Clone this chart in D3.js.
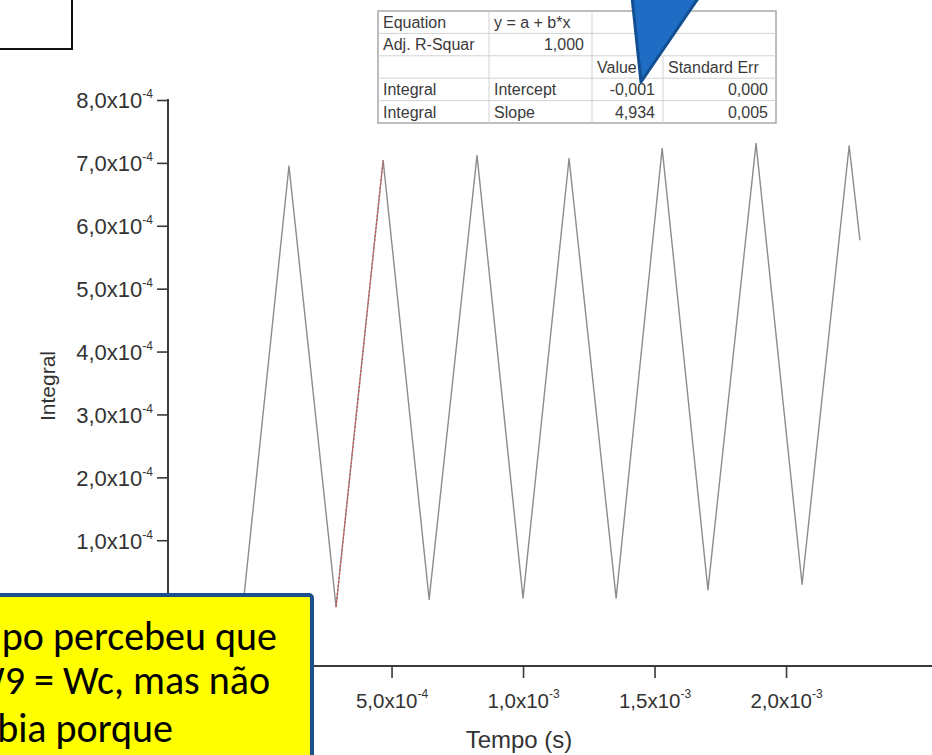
<!DOCTYPE html>
<html>
<head>
<meta charset="utf-8">
<script src="https://cdn.jsdelivr.net/npm/d3@7"></script>
<style>
  html, body { margin: 0; padding: 0; background: #fff; }
  svg { display: block; }
</style>
</head>
<body>
<svg id="chart" width="932" height="755"></svg>
<script>
// Integral signal over time (time in ms, integral in units of 1e-4)
const timeMs   = [-0.065, 0.110, 0.289, 0.468, 0.643, 0.825, 1.000, 1.175, 1.354, 1.529, 1.703, 1.886, 2.061, 2.240, 2.281];
const integral = [-0.05, 6.95, -0.06, 7.04, 0.06, 7.12, 0.08, 7.07, 0.08, 7.23, 0.21, 7.31, 0.30, 7.27, 5.77];

// Indices of the rising edge used for the linear fit
const fitIdx = [2, 3];

// Axis ticks (labelled majors, unlabelled minors)
const xMajor = [5e-4, 1e-3, 1.5e-3, 2e-3];
const xMinor = [-2.5e-4, 0, 2.5e-4, 7.5e-4, 1.25e-3, 1.75e-3, 2.25e-3];
const yMajor = [0, 1e-4, 2e-4, 3e-4, 4e-4, 5e-4, 6e-4, 7e-4, 8e-4];
const yMinor = [-1e-4, -0.5e-4, 0.5e-4, 1.5e-4, 2.5e-4, 3.5e-4, 4.5e-4, 5.5e-4, 6.5e-4, 7.5e-4];

// Linear fit results table
const fitRows = [
  ["Equation", "y = a + b*x", "", ""],
  ["Adj. R-Squar", "1,000", "", ""],
  ["", "", "Value", "Standard Err"],
  ["Integral", "Intercept", "-0,001", "0,000"],
  ["Integral", "Slope", "4,934", "0,005"]
];

// Note box text
const noteLines = ["O grupo percebeu que", "W9 = Wc, mas não", "sabia porque"];

const svg = d3.select("#chart");
const axisColor = "#3a3a3a";
const labelFont = "'Liberation Sans', Arial, sans-serif";

const x = d3.scaleLinear().domain([-3.5e-4, 2.555e-3]).range([168, 932]);
const y = d3.scaleLinear().domain([-1e-4, 8e-4]).range([666, 100]);

const data = timeMs.map((t, i) => ({ t: t * 1e-3, v: integral[i] * 1e-4 }));

// Scientific label pieces, e.g. 5e-4 -> ["5,0x10", "-4"]
function sciParts(v) {
  if (v === 0) return ["0,0", null];
  const e = Math.floor(Math.log10(Math.abs(v)) + 1e-9);
  const m = (v / Math.pow(10, e)).toFixed(1).replace(".", ",");
  return [m + "x10", String(e)];
}

function writeSci(sel) {
  sel.each(function(d) {
    const t = d3.select(this);
    const [base, ex] = sciParts(d);
    t.text(null);
    t.append("tspan").text(base);
    if (ex !== null) {
      t.append("tspan").attr("dy", "-10").attr("font-size", 12).text(ex);
    }
  });
}

// Data line
const line = d3.line().x(d => x(d.t)).y(d => y(d.v));
svg.append("path")
  .datum(data)
  .attr("d", line)
  .attr("fill", "none")
  .attr("stroke", "#8c8c8c")
  .attr("stroke-width", 1.4)
  .attr("stroke-linejoin", "round");

// Fitted segment
svg.append("path")
  .datum(fitIdx.map(i => data[i]))
  .attr("d", line)
  .attr("fill", "none")
  .attr("stroke", "#e04848")
  .attr("stroke-width", 1.2)
  .attr("stroke-dasharray", "2,2");

// X axis
const gx = svg.append("g").attr("transform", `translate(0,666)`);
gx.call(d3.axisBottom(x).tickValues(xMinor).tickSize(6).tickFormat(""));
gx.call(d3.axisBottom(x).tickValues(xMajor).tickSize(12).tickSizeOuter(0));
gx.select(".domain").remove();
gx.append("line").attr("x1", 168).attr("x2", 932).attr("stroke", axisColor).attr("stroke-width", 2);
gx.selectAll(".tick line").attr("stroke", axisColor).attr("stroke-width", 1.6);
gx.selectAll(".tick text")
  .attr("y", 42).attr("dy", null)
  .attr("font-family", labelFont).attr("font-size", 20.5).attr("fill", "#333")
  .call(writeSci);

// Y axis
const gy = svg.append("g").attr("transform", `translate(168,0)`);
gy.call(d3.axisLeft(y).tickValues(yMinor).tickSize(6).tickFormat(""));
gy.call(d3.axisLeft(y).tickValues(yMajor).tickSize(11).tickSizeOuter(0));
gy.select(".domain").remove();
gy.append("line").attr("y1", 99).attr("y2", 667).attr("stroke", axisColor).attr("stroke-width", 2);
gy.selectAll(".tick line").attr("stroke", axisColor).attr("stroke-width", 1.6);
gy.selectAll(".tick text")
  .attr("x", -15).attr("dy", "0.36em")
  .attr("font-family", labelFont).attr("font-size", 22).attr("fill", "#333")
  .call(writeSci);

// Axis titles
svg.append("text")
  .attr("x", 519).attr("y", 748)
  .attr("text-anchor", "middle")
  .attr("font-family", labelFont).attr("font-size", 24).attr("fill", "#333")
  .text("Tempo (s)");
svg.append("text")
  .attr("transform", "translate(55,386) rotate(-90)")
  .attr("text-anchor", "middle")
  .attr("font-family", labelFont).attr("font-size", 21).attr("fill", "#333")
  .text("Integral");

// Fit results table
const colEdges = [378, 489, 592, 663, 776];
const rowEdges = [11, 33.4, 55.8, 78.2, 100.6, 123];
const tbl = svg.append("g");
tbl.append("rect")
  .attr("x", colEdges[0]).attr("y", rowEdges[0])
  .attr("width", colEdges[4] - colEdges[0]).attr("height", rowEdges[5] - rowEdges[0])
  .attr("fill", "#fff").attr("stroke", "#a8a8a8").attr("stroke-width", 1.5);
rowEdges.slice(1, -1).forEach(ry => {
  tbl.append("line").attr("x1", colEdges[0]).attr("x2", colEdges[4])
    .attr("y1", ry).attr("y2", ry).attr("stroke", "#d2d2d2");
});
[1, 2, 3].forEach(ci => {
  const top = ci === 3 ? rowEdges[2] : rowEdges[0];
  tbl.append("line").attr("x1", colEdges[ci]).attr("x2", colEdges[ci])
    .attr("y1", top).attr("y2", rowEdges[5]).attr("stroke", "#d2d2d2");
});
// left-aligned vs right-aligned cells
const rightAligned = (r, c) => (r === 1 && c === 1) || (r >= 3 && c >= 2);
fitRows.forEach((row, r) => {
  row.forEach((txt, c) => {
    if (!txt) return;
    const ra = rightAligned(r, c);
    tbl.append("text")
      .attr("x", ra ? colEdges[c + 1] - 8 : colEdges[c] + 5)
      .attr("y", (rowEdges[r] + rowEdges[r + 1]) / 2)
      .attr("dy", "0.36em")
      .attr("text-anchor", ra ? "end" : "start")
      .attr("font-family", labelFont).attr("font-size", 16).attr("fill", "#3a3a3a")
      .text(txt);
  });
});

// Pointer arrow
svg.append("path")
  .attr("d", "M632,-3 L699,-3 L641,82 Z")
  .attr("fill", "#1f6cc4")
  .attr("stroke", "#114f90")
  .attr("stroke-width", 3)
  .attr("stroke-linejoin", "round");

// Small framed box, top left
svg.append("rect")
  .attr("x", -10).attr("y", -10).attr("width", 82).attr("height", 59)
  .attr("fill", "#fff").attr("stroke", "#111").attr("stroke-width", 2);

// Note box
svg.append("rect")
  .attr("x", -10).attr("y", 595).attr("width", 322).attr("height", 180).attr("rx", 3)
  .attr("fill", "#ffff00").attr("stroke", "#1d4f8c").attr("stroke-width", 4);
const noteX = [277, 270, 173];
const noteY = [650, 694, 742];
noteLines.forEach((s, i) => {
  svg.append("text")
    .attr("x", noteX[i]).attr("y", noteY[i])
    .attr("text-anchor", "end")
    .attr("font-family", "Carlito, Calibri, Lato, sans-serif")
    .attr("font-size", 40).attr("fill", "#000")
    .text(s);
});
</script>
</body>
</html>
